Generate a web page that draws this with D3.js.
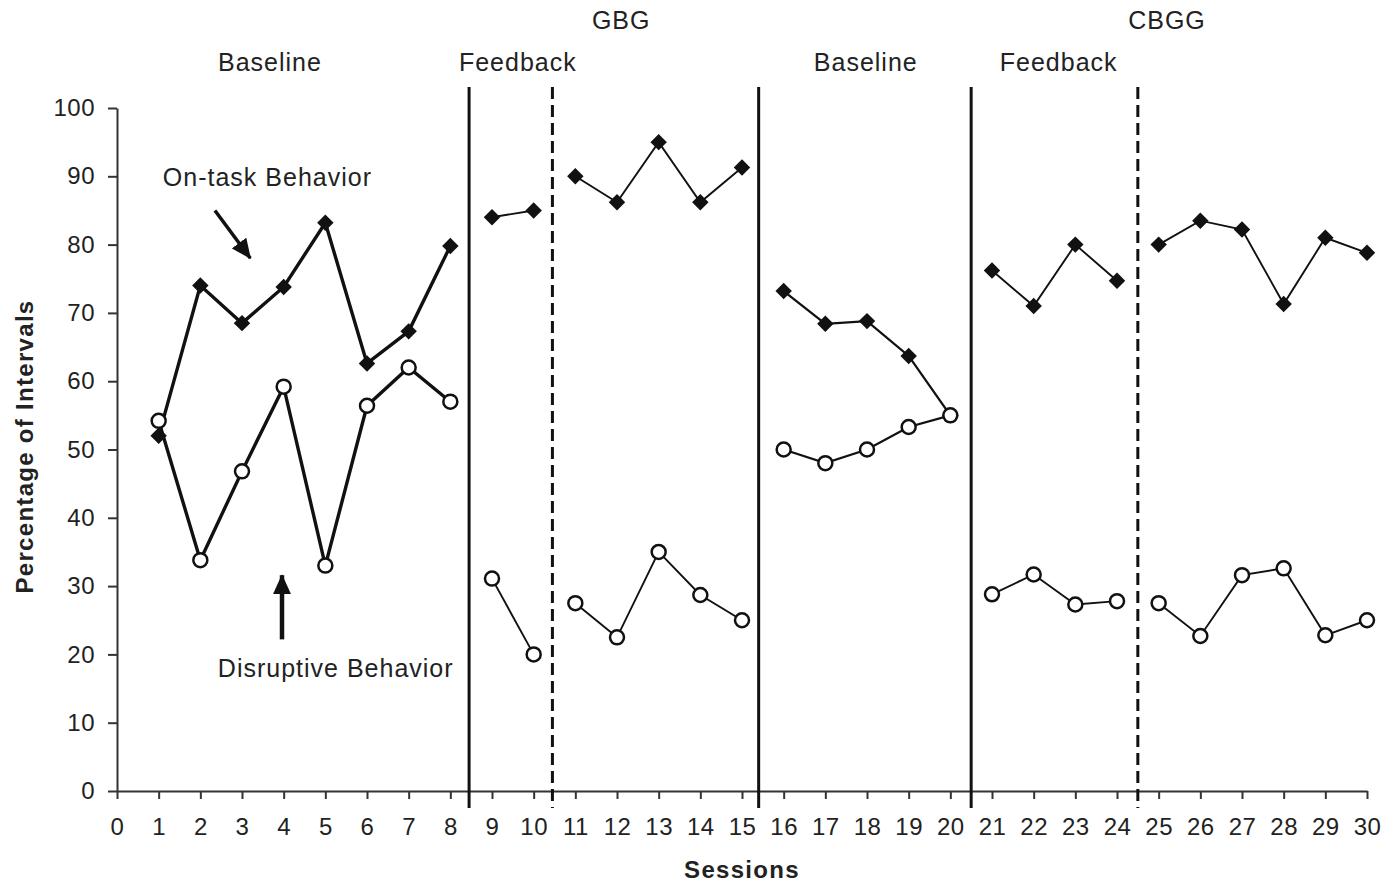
<!DOCTYPE html>
<html>
<head>
<meta charset="utf-8">
<script src="https://cdn.jsdelivr.net/npm/d3@7"></script>
<style>
  body { margin: 0; background: #fff; }
  text { font-family: "Liberation Sans", Arial, sans-serif; fill: #222; }
</style>
</head>
<body>
<div class="chart"></div>
<script>
// session data
var sessions   = d3.range(1, 31);
var onTask     = [52, 74, 68.5, 73.8, 83.2, 62.6, 67.3, 79.8, 84, 85,
                  90, 86.2, 95, 86.2, 91.3, 73.2, 68.4, 68.8, 63.7, 55,
                  76.2, 71, 80, 74.7, 80, 83.5, 82.2, 71.3, 81, 78.8];
var disruptive = [54.2, 33.8, 46.8, 59.2, 33, 56.4, 62, 57, 31.1, 20,
                  27.5, 22.5, 35, 28.7, 25, 50, 48, 50, 53.3, 55,
                  28.8, 31.7, 27.3, 27.8, 27.5, 22.7, 31.6, 32.6, 22.8, 25];

// last session of each phase (lines are broken between phases)
var phaseEnds   = [8, 10, 15, 20, 24, 30];
var phaseWidths = [3.4, 1.9, 1.9, 2.3, 1.9, 1.9];

// phase change lines
var phaseLines = [
  {x: 8.45, dash: false}, {x: 10.45, dash: true}, {x: 15.4, dash: false},
  {x: 20.5, dash: false}, {x: 24.5, dash: true}
];

var phaseLabels = [
  {x: 3.67, row: 1, text: "Baseline"},
  {x: 9.62, row: 1, text: "Feedback"},
  {x: 12.1, row: 0, text: "GBG"},
  {x: 17.97, row: 1, text: "Baseline"},
  {x: 22.6, row: 1, text: "Feedback"},
  {x: 25.2, row: 0, text: "CBGG"}
];

var xTicks = d3.range(0, 31);
var yTicks = d3.range(0, 101, 10);

var margin = {top: 108, right: 18, bottom: 92, left: 117},
    width = 1385 - margin.left - margin.right,
    height = 883 - margin.top - margin.bottom;

var x = d3.scaleLinear().domain([0, 30]).range([0, width]);
var y = d3.scaleLinear().domain([0, 100]).range([height, 0]);

var svg = d3.select(".chart").append("svg")
    .attr("width", 1385)
    .attr("height", 883);

var defs = svg.append("defs");
defs.append("marker")
    .attr("id", "head")
    .attr("markerUnits", "userSpaceOnUse")
    .attr("viewBox", "0 0 20 18")
    .attr("refX", 19).attr("refY", 9)
    .attr("markerWidth", 20).attr("markerHeight", 18)
    .attr("orient", "auto")
  .append("path")
    .attr("d", "M0,0L20,9L0,18Z")
    .attr("fill", "#111");

var g = svg.append("g")
    .attr("transform", "translate(" + margin.left + "," + margin.top + ")");

/* axes */
var xAxis = g.append("g")
    .attr("transform", "translate(0," + height + ")")
    .call(d3.axisBottom(x).tickValues(xTicks).tickSizeInner(8).tickSizeOuter(0).tickPadding(19));
var yAxis = g.append("g")
    .call(d3.axisLeft(y).tickValues(yTicks).tickSizeInner(9).tickSizeOuter(0).tickPadding(13));

[xAxis, yAxis].forEach(function(a) {
  a.select(".domain").attr("stroke", "#333").attr("stroke-width", 2);
  a.selectAll(".tick line").attr("stroke", "#333").attr("stroke-width", 2);
  a.selectAll(".tick text")
      .style("font-family", "'Liberation Sans', Arial, sans-serif")
      .style("font-size", "24px")
      .style("letter-spacing", "0.5px")
      .attr("fill", "#222");
});

/* phase change lines */
g.selectAll(".phase")
  .data(phaseLines)
  .enter().append("line")
    .attr("x1", function(d) { return x(d.x); })
    .attr("x2", function(d) { return x(d.x); })
    .attr("y1", y(100) - 21)
    .attr("y2", height + 17)
    .attr("stroke", "#111")
    .attr("stroke-width", 3)
    .attr("stroke-dasharray", function(d) { return d.dash ? "12,6" : null; });

/* phase labels */
g.selectAll(".plabel")
  .data(phaseLabels)
  .enter().append("text")
    .attr("x", function(d) { return x(d.x); })
    .attr("y", function(d) { return d.row === 0 ? 29 - margin.top : 71 - margin.top; })
    .attr("text-anchor", "middle")
    .style("font-size", "25px")
    .style("letter-spacing", "1px")
    .text(function(d) { return d.text; });

/* series */
var rows = sessions.map(function(s, i) {
  return {s: s, on: onTask[i], dis: disruptive[i], phase: d3.bisectLeft(phaseEnds, s)};
});

var lineOn  = d3.line().x(function(d) { return x(d.s); }).y(function(d) { return y(d.on); });
var lineDis = d3.line().x(function(d) { return x(d.s); }).y(function(d) { return y(d.dis); });

var groups = d3.groups(rows, function(d) { return d.phase; });
groups.forEach(function(gr) {
  var w = phaseWidths[gr[0]];
  g.append("path").datum(gr[1]).attr("d", lineOn)
      .attr("fill", "none").attr("stroke", "#111").attr("stroke-width", w);
  g.append("path").datum(gr[1]).attr("d", lineDis)
      .attr("fill", "none").attr("stroke", "#111").attr("stroke-width", w);
});

g.selectAll(".diamond")
  .data(rows)
  .enter().append("path")
    .attr("d", d3.symbol(d3.symbolSquare, 135))
    .attr("transform", function(d) { return "translate(" + x(d.s) + "," + y(d.on) + ") rotate(45)"; })
    .attr("fill", "#111");

g.selectAll(".circle")
  .data(rows)
  .enter().append("circle")
    .attr("cx", function(d) { return x(d.s); })
    .attr("cy", function(d) { return y(d.dis); })
    .attr("r", 7)
    .attr("fill", "#fff")
    .attr("stroke", "#111")
    .attr("stroke-width", 2.5);

/* annotations */
g.append("text")
    .attr("x", x(1.1)).attr("y", y(88.6))
    .style("font-size", "25px").style("letter-spacing", "1px")
    .text("On-task Behavior");
g.append("line")
    .attr("x1", x(2.35)).attr("y1", y(85))
    .attr("x2", x(3.2)).attr("y2", y(78))
    .attr("stroke", "#111").attr("stroke-width", 3.5)
    .attr("marker-end", "url(#head)");

g.append("text")
    .attr("x", x(2.42)).attr("y", y(16.7))
    .style("font-size", "25px").style("letter-spacing", "1px")
    .text("Disruptive Behavior");
g.append("line")
    .attr("x1", x(3.96)).attr("y1", y(22.2))
    .attr("x2", x(3.96)).attr("y2", y(31.6))
    .attr("stroke", "#111").attr("stroke-width", 4.5)
    .attr("marker-end", "url(#head)");

/* axis titles */
g.append("text")
    .attr("transform", "translate(" + (25 - margin.left) + "," + (y(50) - 3) + ") rotate(-90)")
    .attr("text-anchor", "middle")
    .attr("dy", "0.35em")
    .style("font-size", "24px").style("font-weight", "bold").style("letter-spacing", "1.3px")
    .text("Percentage of Intervals");

g.append("text")
    .attr("x", x(15))
    .attr("y", 878 - margin.top)
    .attr("text-anchor", "middle")
    .style("font-size", "24px").style("font-weight", "bold").style("letter-spacing", "1.3px")
    .text("Sessions");
</script>
</body>
</html>
